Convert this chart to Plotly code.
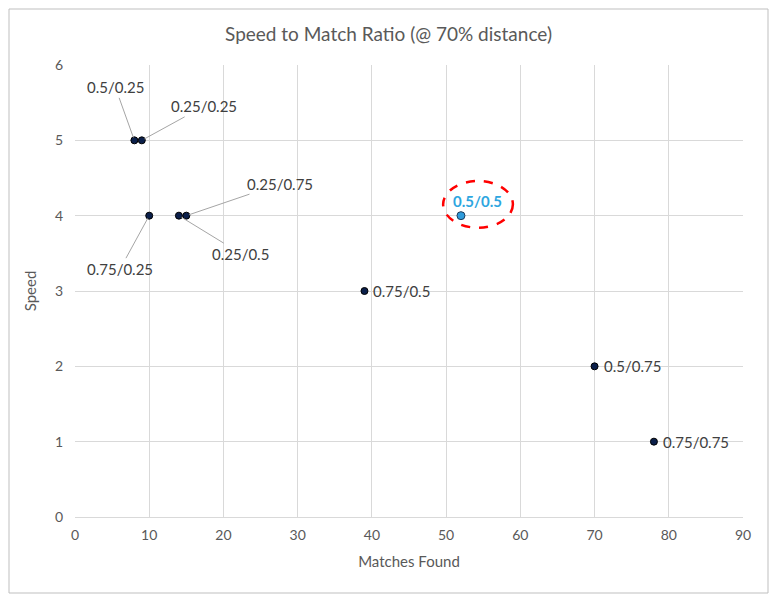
import plotly.graph_objects as go

matches = [8, 9, 10, 14, 15, 39, 70, 78]
speed = [5, 5, 4, 4, 4, 3, 2, 1]
labels = ["0.5/0.25", "0.25/0.25", "0.75/0.25", "0.25/0.5", "0.25/0.75", "0.75/0.5", "0.5/0.75", "0.75/0.75"]
best_x, best_y, best_label = 52, 4, "0.5/0.5"

# label offsets in pixels (leader line when set, else plain text to the right)
offsets = {
    "0.5/0.25": (-19, -53),
    "0.25/0.25": (62, -34),
    "0.75/0.25": (-29, 53),
    "0.25/0.5": (62, 38),
    "0.25/0.75": (94, -32),
}

font = "Lato, Open Sans, sans-serif"
fig = go.Figure()
fig.add_trace(go.Scatter(
    x=matches, y=speed, mode="markers",
    marker={"color": "#0b1f4a", "size": 7, "line": {"color": "black", "width": 1}},
    hoverinfo="x+y", showlegend=False,
))
fig.add_trace(go.Scatter(
    x=[best_x], y=[best_y], mode="markers",
    marker={"color": "#2e9bdb", "size": 8, "line": {"color": "#1a3a5a", "width": 1}},
    showlegend=False,
))

for x, y, t in zip(matches, speed, labels):
    if t in offsets:
        ax, ay = offsets[t]
        fig.add_annotation(x=x, y=y, text=t, showarrow=True, arrowhead=0, arrowwidth=1,
                           arrowcolor="#a5a5a5", ax=ax, ay=ay, standoff=3,
                           font={"size": 15, "color": "#404040"})
    else:
        fig.add_annotation(x=x, y=y, text=t, showarrow=False, xanchor="left", xshift=7,
                           font={"size": 15, "color": "#404040"})

fig.add_annotation(x=best_x, y=best_y, text="<b>" + best_label + "</b>", showarrow=False,
                   xshift=17, yshift=15, font={"size": 15, "color": "#2ea6e0"})
fig.add_shape(type="circle", x0=49.6, x1=59.0, y0=3.84, y1=4.46,
              line={"color": "red", "width": 2.5, "dash": "dash"})
fig.add_shape(type="rect", xref="paper", yref="paper",
              x0=-66 / 668, x1=1 + 25 / 668, y0=-76 / 452, y1=1 + 56 / 452,
              line={"color": "#bfbfbf", "width": 1})

fig.update_layout(
    width=761, height=586,
    margin={"l": 67, "r": 26, "t": 57, "b": 77},
    plot_bgcolor="white", paper_bgcolor="white",
    font={"family": font, "color": "#595959", "size": 14},
    title={"text": "Speed to Match Ratio (@ 70% distance)", "x": 0.5, "y": 0.955,
           "xanchor": "center", "yanchor": "middle", "font": {"size": 19, "color": "#595959"}},
)
fig.update_xaxes(range=[0, 90], dtick=10, showgrid=True, gridcolor="#d9d9d9",
                 zeroline=False, showline=True, linecolor="#d9d9d9",
                 ticks="outside", ticklen=5, tickcolor="rgba(0,0,0,0)",
                 title={"text": "Matches Found", "font": {"size": 15}, "standoff": 14})
fig.update_yaxes(range=[0, 6], dtick=1, showgrid=True, gridcolor="#d9d9d9",
                 zeroline=False, ticks="outside", ticklen=8, tickcolor="rgba(0,0,0,0)",
                 title={"text": "Speed", "font": {"size": 15}, "standoff": 14})
fig.write_html("out.html")
